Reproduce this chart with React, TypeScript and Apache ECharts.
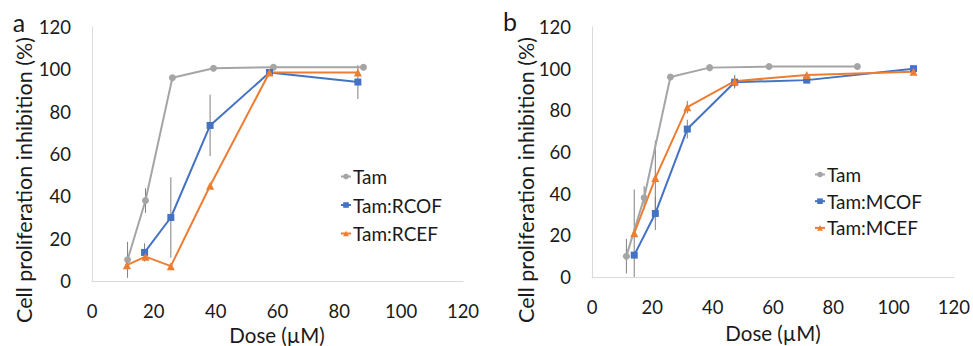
import React, { useEffect, useRef } from "react";
import * as echarts from "echarts";

// Panel a
const aTamX = [11.5, 17.3, 26, 39.3, 58.7, 87.8];
const aTamY = [10, 38, 96, 100.5, 101, 101];
const aTamErr = [8.5, 5.8, 0, 0, 0, 0];
const aRcofX = [17, 25.5, 38.2, 57.4, 86];
const aRcofY = [13.5, 30, 73.5, 98.5, 94];
const aRcofErr = [4.3, 19, 14.5, 0, 8];
const aRcefX = [11.3, 17.3, 25.5, 38.2, 57.4, 86];
const aRcefY = [7.5, 11.5, 7, 45, 98.5, 98.5];
const aRcefErr = [0, 0, 0, 0, 0, 0];

// Panel b
const bTamX = [11.4, 17.3, 26, 39, 58.7, 88];
const bTamY = [10, 38, 96, 100.5, 101, 101];
const bTamErr = [8.3, 5.6, 0, 0, 0, 0];
const bMcofX = [14, 21, 31.6, 47.3, 71.2, 106.6];
const bMcofY = [10.5, 30.5, 71, 93.5, 94.5, 100];
const bMcofErr = [0, 8, 4.5, 3, 0, 0];
const bMcefX = [14, 21, 31.6, 47.3, 71.2, 106.6];
const bMcefY = [21, 47.5, 81.5, 94, 97, 98.5];
const bMcefErr = [21, 18, 3, 3, 0, 0];

const xTicks = [0, 20, 40, 60, 80, 100, 120];
const yTicks = [0, 20, 40, 60, 80, 100, 120];

const GRAY = "#A5A5A5";
const BLUE = "#4472C4";
const ORANGE = "#ED7D31";
const FONT = "Lato";
const TEXT = "#1a1a1a";

const zip = (xs: number[], ys: number[]) => xs.map((x, i) => [x, ys[i]]);
const errs = (xs: number[], ys: number[], es: number[]) =>
  xs
    .map((x, i) => [x, Math.max(0, ys[i] - es[i]), ys[i] + es[i], es[i]])
    .filter((d) => d[3] > 0)
    .map((d) => [d[0], d[1], d[2]]);

function lineSeries(name: string, xs: number[], ys: number[], color: string, symbol: string, size: number, idx: number) {
  return {
    type: "line",
    name,
    xAxisIndex: idx,
    yAxisIndex: idx,
    data: zip(xs, ys),
    symbol,
    symbolSize: size,
    showSymbol: true,
    lineStyle: { color, width: 2 },
    itemStyle: { color },
    z: 3,
  };
}

function errSeries(xs: number[], ys: number[], es: number[], idx: number) {
  return {
    type: "custom",
    xAxisIndex: idx,
    yAxisIndex: idx,
    silent: true,
    z: 2,
    data: errs(xs, ys, es),
    encode: { x: 0, y: [1, 2] },
    renderItem: (_p: any, api: any) => {
      const x = api.value(0);
      const p1 = api.coord([x, api.value(1)]);
      const p2 = api.coord([x, api.value(2)]);
      return {
        type: "line",
        shape: { x1: p1[0], y1: p1[1], x2: p2[0], y2: p2[1] },
        style: { stroke: "#7f7f7f", lineWidth: 1 },
      };
    },
  };
}

function xAxis(idx: number) {
  return {
    type: "value",
    gridIndex: idx,
    min: xTicks[0],
    max: xTicks[xTicks.length - 1],
    interval: xTicks[1] - xTicks[0],
    axisLine: { show: true, lineStyle: { color: "#d9d9d9", width: 1 } },
    axisTick: { show: false },
    splitLine: { show: false },
    axisLabel: { margin: 20, fontSize: 18.5, fontFamily: FONT, color: TEXT },
  };
}

function yAxis(idx: number) {
  return {
    type: "value",
    gridIndex: idx,
    min: yTicks[0],
    max: yTicks[yTicks.length - 1],
    interval: yTicks[1] - yTicks[0],
    axisLine: { show: true, lineStyle: { color: "#d9d9d9", width: 1 } },
    axisTick: { show: false },
    splitLine: { show: false },
    axisLabel: { margin: 21, fontSize: 18.5, fontFamily: FONT, color: TEXT },
  };
}

function txt(text: string, x: number, y: number, size: number, rot = 0) {
  return {
    type: "text",
    x,
    y,
    rotation: rot,
    style: {
      text,
      fill: TEXT,
      font: `${size}px ${FONT}`,
      textAlign: "center",
      textVerticalAlign: "middle",
    },
  };
}

export default function App() {
  const ref = useRef<HTMLDivElement>(null);
  useEffect(() => {
    if (!ref.current) return;
    const chart = echarts.init(ref.current, null, { renderer: "svg" });
    chart.setOption({
      animation: false,
      backgroundColor: "#ffffff",
      grid: [
        { left: 92, top: 27, width: 371, height: 254 },
        { left: 592, top: 27, width: 362, height: 250 },
      ],
      xAxis: [xAxis(0), xAxis(1)],
      yAxis: [yAxis(0), yAxis(1)],
      legend: [
        {
          orient: "vertical",
          left: 340,
          top: 167,
          padding: 0,
          itemGap: 9.5,
          itemWidth: 10,
          itemHeight: 7,
          data: ["Tam", "Tam:RCOF", "Tam:RCEF"],
          textStyle: { fontSize: 19, fontFamily: FONT, color: TEXT, padding: [0, 0, 0, -3] },
        },
        {
          orient: "vertical",
          left: 814,
          top: 165,
          padding: 0,
          itemGap: 7.7,
          itemWidth: 10,
          itemHeight: 7,
          data: ["Tam ", "Tam:MCOF", "Tam:MCEF"],
          textStyle: { fontSize: 19, fontFamily: FONT, color: TEXT, padding: [0, 0, 0, -3] },
        },
      ],
      graphic: [
        txt("a", 19, 22, 25),
        txt("b", 510, 21, 25),
        txt("Cell proliferation inhibition (%)", 24, 180, 21.5, Math.PI / 2),
        txt("Cell proliferation inhibition (%)", 526, 180, 21.5, Math.PI / 2),
        txt("Dose (\u00b5M)", 277, 335, 20.5),
        txt("Dose (\u00b5M)", 773, 333, 20.5),
      ],
      series: [
        errSeries(aTamX, aTamY, aTamErr, 0),
        errSeries(aRcofX, aRcofY, aRcofErr, 0),
        errSeries(aRcefX, aRcefY, aRcefErr, 0),
        lineSeries("Tam", aTamX, aTamY, GRAY, "circle", 7, 0),
        lineSeries("Tam:RCOF", aRcofX, aRcofY, BLUE, "rect", 7, 0),
        lineSeries("Tam:RCEF", aRcefX, aRcefY, ORANGE, "triangle", 8, 0),
        errSeries(bTamX, bTamY, bTamErr, 1),
        errSeries(bMcofX, bMcofY, bMcofErr, 1),
        errSeries(bMcefX, bMcefY, bMcefErr, 1),
        lineSeries("Tam ", bTamX, bTamY, GRAY, "circle", 7, 1),
        lineSeries("Tam:MCOF", bMcofX, bMcofY, BLUE, "rect", 7, 1),
        lineSeries("Tam:MCEF", bMcefX, bMcefY, ORANGE, "triangle", 8, 1),
      ],
    });
    return () => chart.dispose();
  }, []);
  return (
    <div
      ref={ref}
      style={{ position: "absolute", left: 0, top: 0, width: 973, height: 346 }}
    />
  );
}
